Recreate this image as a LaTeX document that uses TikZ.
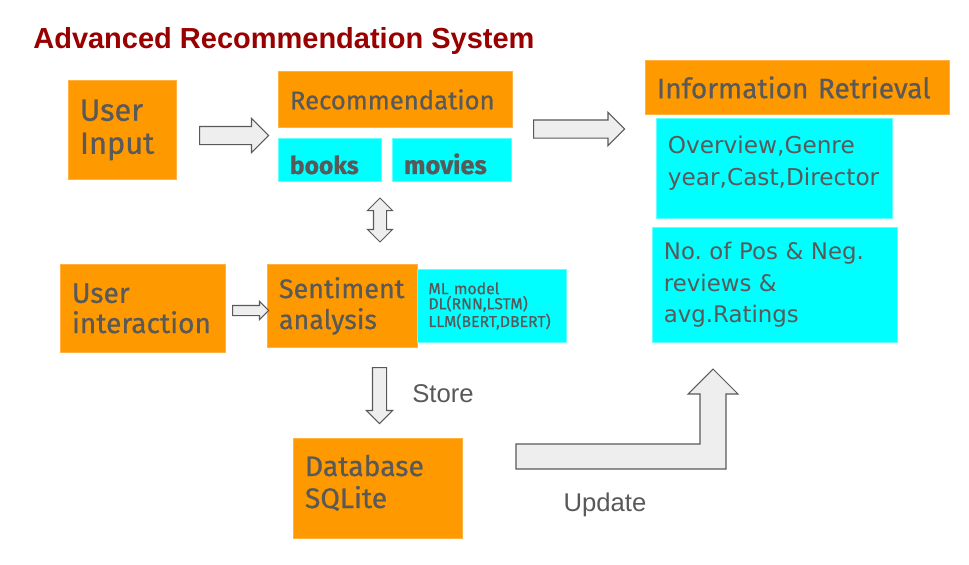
\documentclass[tikz,border=0pt]{standalone}
\usepackage{fontspec}
\usepackage{tikz}
\usetikzlibrary{shapes.arrows}
\setmainfont{Liberation Sans}
\newfontfamily\comicf{Fira Sans}[FakeBold=0.6]
\newfontfamily\tahf{DejaVu Sans}
\definecolor{boxorange}{HTML}{FF9900}
\definecolor{boxcyan}{HTML}{00FFFF}
\definecolor{txtgrey}{HTML}{595959}
\definecolor{titlered}{HTML}{990000}
\definecolor{arrowfill}{HTML}{EEEEEE}
\frenchspacing

\begin{document}
\begin{tikzpicture}[x=0.2mm,y=-0.2mm,
  box/.style={anchor=north west, inner xsep=2.3mm, inner ysep=0pt, align=left, text=txtgrey},
  orangebox/.style={box, fill=boxorange, draw=boxorange!75!white, line width=0.5pt},
  cyanbox/.style={box, fill=boxcyan, draw=boxcyan!60!white, line width=0.5pt},
  fatarrow/.style={single arrow, draw=txtgrey, fill=arrowfill, line width=0.6pt, inner xsep=0pt, anchor=tail},
  dblarrow/.style={double arrow, draw=txtgrey, fill=arrowfill, line width=0.6pt, inner xsep=0pt},
  lbl/.style={text=txtgrey, font=\fontsize{14.6}{17}\selectfont}]
\useasboundingbox (0,0) rectangle (969,565);

\node[anchor=base west, text=titlered, inner sep=0pt, font=\bfseries\fontsize{16.5}{20}\selectfont] (title) at (33,49) {Advanced Recommendation System};

\node[orangebox, text width=17mm, minimum height=19.8mm, font=\comicf\fontsize{17.5}{18.8}\selectfont] (uin) at (68,80) {User\\Input};
\node[orangebox, text width=42.2mm, minimum height=11.2mm, font=\comicf\fontsize{14.6}{17}\selectfont] (rec) at (278,71) {Recommendation};
\node[cyanbox, text width=16mm, minimum height=8.6mm, text height=16pt, text depth=0pt, font=\comicf\bfseries\fontsize{14}{16}\selectfont] (books) at (278,138) {books};
\node[cyanbox, text width=19.2mm, minimum height=8.6mm, text height=16pt, text depth=0pt, font=\comicf\bfseries\fontsize{14.5}{16}\selectfont] (movies) at (392,138) {movies};
\node[orangebox, text width=56.2mm, minimum height=10.8mm, font=\comicf\fontsize{16}{18}\selectfont] (info) at (645,60) {Information Retrieval};
\node[cyanbox, text width=42.6mm, minimum height=20mm, font=\tahf\fontsize{13.2}{18.2}\selectfont] (ovw) at (656,118) {Overview,Genre\\year,Cast,Director\rule[-9pt]{0pt}{1pt}};
\node[cyanbox, text width=44.4mm, minimum height=23mm, font=\tahf\fontsize{13}{18}\selectfont] (nop) at (652,227) {No. of Pos \& Neg.\\reviews \&\\avg.Ratings};
\node[orangebox, text width=28.4mm, minimum height=17.6mm, font=\comicf\fontsize{16}{17.2}\selectfont] (uint) at (60,264) {User\\interaction};
\node[orangebox, text width=25.4mm, minimum height=16.6mm, font=\comicf\fontsize{15.3}{17.6}\selectfont] (sent) at (267,264) {Sentiment\\analysis};
\node[cyanbox, text width=25.4mm, minimum height=14.6mm, inner xsep=2.2mm, font=\comicf\fontsize{9}{8.6}\selectfont] (ml) at (417,269) {ML model\\DL(RNN,LSTM)\\LLM(BERT,DBERT)};
\node[orangebox, text width=29.2mm, minimum height=20mm, font=\comicf\fontsize{16.1}{18.2}\selectfont] (db) at (293,438) {Database\\SQLite\rule[-8pt]{0pt}{1pt}};

\node[fatarrow, inner ysep=1.7mm, single arrow head extend=1.6mm, minimum height=13.8mm] (a1) at (199,135.5) {};
\node[fatarrow, inner ysep=1.7mm, single arrow head extend=1.5mm, minimum height=18.2mm] (a2) at (533,129) {};
\node[fatarrow, inner ysep=0.9mm, single arrow head extend=0.8mm, minimum height=7.2mm] (a3) at (232,310.5) {};
\node[dblarrow, rotate=90, inner ysep=1.2mm, double arrow head extend=1.2mm, minimum height=8.8mm] (a4) at (380,220) {};
\node[fatarrow, rotate=-90, inner ysep=1.3mm, single arrow head extend=1.2mm, minimum height=11.2mm] (a5) at (379.5,367) {};

\draw[draw=txtgrey, fill=arrowfill, line width=0.6pt] (516,444) -- (700,444) -- (700,394) -- (688,394) -- (713,369) -- (738,394) -- (726,394) -- (726,469) -- (516,469) -- cycle;

\node[lbl, anchor=west, inner sep=0pt] (store) at (412,394) {Store};
\node[lbl, inner sep=0pt] (update) at (605,505) {Update};
\end{tikzpicture}
\end{document}
